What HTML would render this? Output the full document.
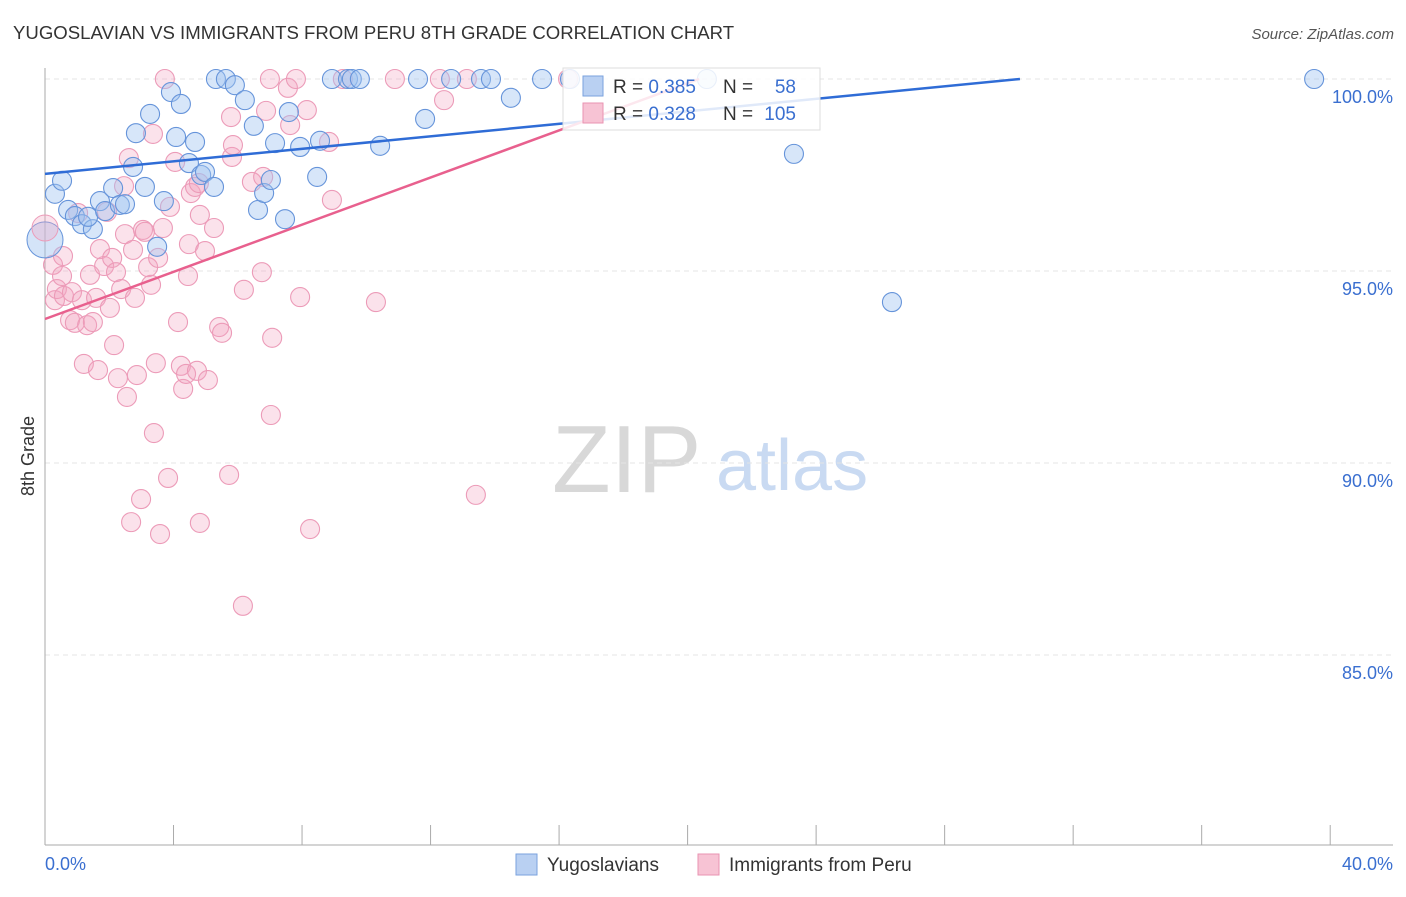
<!DOCTYPE html>
<html><head><meta charset="utf-8"><style>
body{margin:0;background:#fff;font-family:"Liberation Sans",sans-serif}
svg text{font-family:"Liberation Sans",sans-serif}
</style></head><body>
<svg id="chart" width="1406" height="892" xmlns="http://www.w3.org/2000/svg">
<text x="13" y="39" font-size="18.6" fill="#333">YUGOSLAVIAN VS IMMIGRANTS FROM PERU 8TH GRADE CORRELATION CHART</text>
<text x="1394" y="39" font-size="15" fill="#555" text-anchor="end" font-style="italic">Source: ZipAtlas.com</text>
<g>
<text x="552" y="492" font-size="96" fill="#d8d8d8" font-family="Liberation Serif,serif">ZIP</text>
<text x="716" y="490" font-size="72" fill="#c9daf2">atlas</text>
</g>
<g id="grid"></g>
<g id="axes"></g>
<g id="marks"></g>
<g>
<rect x="563" y="68" width="257" height="62" fill="#fff" fill-opacity="0.85" stroke="#ddd"/>
<rect x="583" y="76" width="20" height="20" fill="#b9d0f2" stroke="#7aa2de"/>
<rect x="583" y="103" width="20" height="20" fill="#f7c3d4" stroke="#e993b2"/>
<text x="613" y="93" font-size="19" fill="#333">R = <tspan fill="#3a6fd0">0.385</tspan></text>
<text x="723" y="93" font-size="19" fill="#333">N = </text><text x="796" y="93" font-size="19" fill="#3a6fd0" text-anchor="end">58</text>
<text x="613" y="120" font-size="19" fill="#333">R = <tspan fill="#3a6fd0">0.328</tspan></text>
<text x="723" y="120" font-size="19" fill="#333">N = </text><text x="796" y="120" font-size="19" fill="#3a6fd0" text-anchor="end">105</text>
</g>
<text transform="translate(34,456) rotate(-90)" font-size="18" fill="#333" text-anchor="middle">8th Grade</text>
<g>
<rect x="516" y="854" width="21" height="21" fill="#b9d0f2" stroke="#7aa2de"/>
<text x="547" y="871" font-size="19" fill="#333">Yugoslavians</text>
<rect x="698" y="854" width="21" height="21" fill="#f7c3d4" stroke="#e993b2"/>
<text x="729" y="871" font-size="19" fill="#333">Immigrants from Peru</text>
</g>
</svg>
<script>
const yugoX=[0.31,0.53,0.72,0.93,1.15,1.49,1.34,1.71,1.87,2.12,2.33,2.49,2.74,2.83,3.11,3.27,3.49,3.70,3.92,4.08,4.23,4.48,4.67,4.86,4.98,5.26,5.32,5.63,5.91,6.22,6.50,6.63,6.82,7.03,7.16,7.47,7.59,7.94,8.47,8.56,8.93,9.43,9.55,9.80,10.43,11.61,11.83,12.64,13.57,13.88,14.50,15.47,16.34,20.60,23.31,26.36,39.50];
const yugoY=[97.01,97.35,96.59,96.43,96.22,96.09,96.41,96.82,96.56,97.16,96.72,96.74,97.71,98.59,97.19,99.09,95.63,96.82,99.66,98.49,99.35,97.81,98.36,97.50,97.58,97.19,100,100,99.84,99.45,98.78,96.59,97.03,97.37,98.33,96.35,99.14,98.23,97.45,98.39,100,100,100,100,98.26,100,98.96,100,100,100,99.51,100,100,100,98.05,94.19,100];
const peruX=[0.25,0.31,0.37,0.53,0.59,0.78,0.84,0.56,0.93,1.03,1.15,1.21,1.31,1.40,1.49,1.59,1.65,1.71,1.84,1.93,2.02,2.09,2.15,2.21,2.27,2.37,2.46,2.49,2.55,2.61,2.68,2.74,2.80,2.86,2.99,3.05,3.11,3.21,3.30,3.36,3.39,3.45,3.52,3.58,3.67,3.83,3.89,4.05,4.14,4.23,4.30,4.39,4.45,4.48,4.54,4.67,4.73,4.79,4.82,4.98,5.07,5.26,5.42,5.51,5.73,5.79,5.82,5.85,6.16,6.19,6.44,6.75,6.79,6.88,7.00,7.03,7.07,7.56,7.63,7.81,7.94,8.15,8.25,8.84,8.93,9.27,10.30,10.89,12.29,12.42,13.13,13.41,16.28,3.73,4.82];
const peruY=[95.16,94.24,94.53,94.87,94.35,93.72,94.45,95.39,93.65,96.51,94.24,92.58,93.59,94.90,93.67,94.30,92.42,95.57,95.13,96.54,94.04,95.34,93.07,94.97,92.21,94.53,97.21,95.96,91.72,97.94,88.46,95.55,94.30,92.29,89.06,96.07,96.02,95.10,94.64,98.57,90.78,92.60,95.34,88.15,96.12,89.61,96.67,97.84,93.67,92.53,91.93,92.32,94.87,95.70,97.03,97.19,92.40,97.29,88.44,95.52,92.16,96.12,93.54,93.39,89.69,99.01,97.97,98.28,86.28,94.51,97.32,94.97,97.45,99.17,100,91.25,93.26,99.77,98.80,100,94.32,99.19,88.28,98.36,96.85,100,94.19,100,100,99.45,100,89.17,100,100,96.46];
const yTicks=[100,95,90,85];
const yTickLabels=["100.0%","95.0%","90.0%","85.0%"];
const xTickValues=[0,4,8,12,16,20,24,28,32,36,40];
const trendYugo=[97.53,0.0814];
const trendPeru=[93.75,0.307];
const NS="http://www.w3.org/2000/svg";
const sx=v=>45+v*32.13;
const sy=v=>79+(100-v)*38.4;
function mk(tag,attrs,parent){const e=document.createElementNS(NS,tag);for(const k in attrs)e.setAttribute(k,attrs[k]);parent.appendChild(e);return e;}
const grid=document.getElementById('grid'),axes=document.getElementById('axes'),marks=document.getElementById('marks');
yTicks.forEach((t,i)=>{
 const l=mk('line',{x1:45,x2:1393,y1:sy(t),y2:sy(t),stroke:'#e4e4e4','stroke-dasharray':'5,4'},grid);
 
 
 const tx=mk('text',{x:1393,y:sy(t)+24,'font-size':18,fill:'#3a6fd0','text-anchor':'end'},axes);
 tx.textContent=yTickLabels[i];
 
 
});
const la=mk('line',{x1:45,x2:45,y1:68,y2:845,stroke:'#aaa'},axes);


const ba=mk('line',{x1:45,x2:1393,y1:845,y2:845,stroke:'#aaa'},axes);


xTickValues.forEach(v=>{
 const t=mk('line',{x1:sx(v),x2:sx(v),y1:825,y2:845,stroke:'#aaa'},axes);
 
 
});
const x0=mk('text',{x:45,y:870,'font-size':18,fill:'#3a6fd0'},axes);x0.textContent='0.0%';


const x1=mk('text',{x:1393,y:870,'font-size':18,fill:'#3a6fd0','text-anchor':'end'},axes);x1.textContent='40.0%';


function dots(X,Y,fill,stroke,name){X.forEach((x,i)=>{
 const c=mk('circle',{cx:sx(x),cy:sy(Y[i]),r:9.5,fill:fill,stroke:stroke,'stroke-width':1.1},marks);
 
 
});}
dots(peruX,peruY,'rgba(244,165,192,0.32)','#ec9bb8','peru-point');
dots(yugoX,yugoY,'rgba(160,195,240,0.42)','#6694da','yugoslavian-point');
const bigB=mk('circle',{cx:sx(0),cy:sy(95.81),r:18,fill:'rgba(160,195,240,0.45)',stroke:'#6694da'},marks);


const bigP=mk('circle',{cx:sx(0),cy:sy(96.12),r:13,fill:'rgba(244,165,192,0.32)',stroke:'#ec9bb8'},marks);


function trend(tr,color,name){const xEnd=Math.min(40,(100-tr[0])/tr[1]);
 const l=mk('line',{x1:sx(0),y1:sy(tr[0]),x2:sx(xEnd),y2:sy(tr[0]+tr[1]*xEnd),stroke:color,'stroke-width':2.5},marks);
 
 
}
trend(trendYugo,'#2f6cd6','yugoslavian-trend-line');
trend(trendPeru,'#e8608e','peru-trend-line');
</script>
</body></html>
